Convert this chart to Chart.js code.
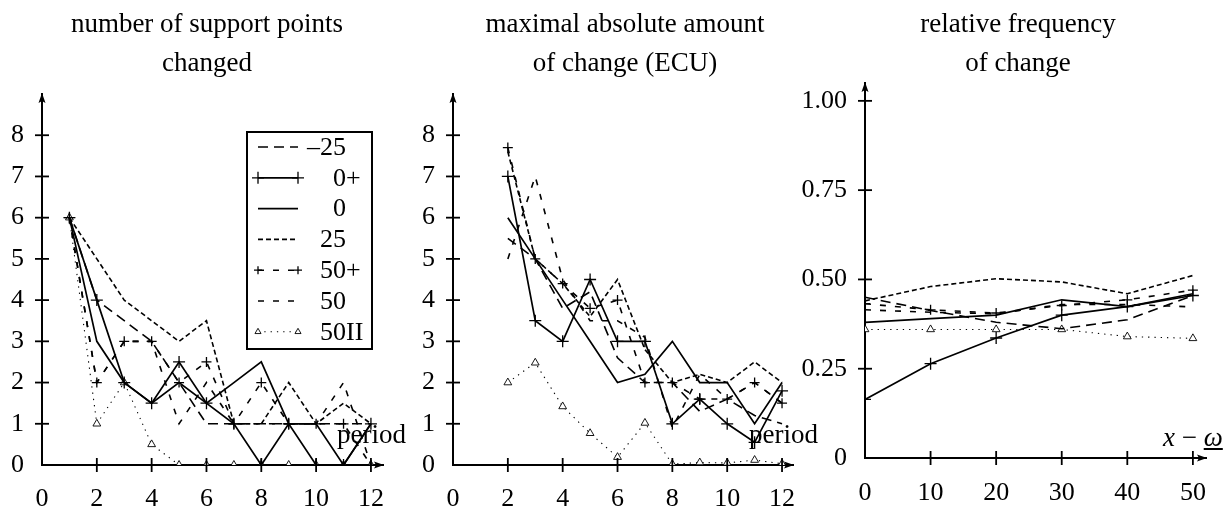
<!DOCTYPE html>
<html>
<head>
<meta charset="utf-8">
<script src="https://cdn.jsdelivr.net/npm/chart.js@4.4.1/dist/chart.umd.min.js"></script>
<style>
  body { margin: 0; background: #fff; width: 1231px; height: 510px; position: relative; overflow: hidden; font-family: "Liberation Serif", serif; color: #000; }
  canvas { position: absolute; top: 0; }
  .ttl { position: absolute; top: 4px; width: 420px; font-size: 27px; line-height: 39px; text-align: center; }
  .lbl { position: absolute; font-size: 27px; line-height: 27px; white-space: nowrap; }
</style>
</head>
<body>
<canvas id="c1" width="410" height="510" style="left:0px"></canvas>
<canvas id="c2" width="410" height="510" style="left:410px"></canvas>
<canvas id="c3" width="441" height="510" style="left:790px"></canvas>

<div class="ttl" style="left:-3px">number of support points<br>changed</div>
<div class="ttl" style="left:415px">maximal absolute amount<br>of change (ECU)</div>
<div class="ttl" style="left:808px">relative frequency<br>of change</div>
<div class="lbl" style="left:337px; top:421px">period</div>
<div class="lbl" style="left:749px; top:421px">period</div>
<div class="lbl" style="left:1163px; top:424px"><i>x</i> − <u><i>ω</i></u></div>

<script>
// series order: -25, 0+, 0, 25, 50+, 50, 50II
const seriesNames = ['–25', '0+', '0', '25', '50+', '50', '50II'];

// panel 1: number of support points changed
const periods1 = [1, 2, 3, 4, 5, 6, 7, 8, 9, 10, 11, 12];
const pts_m25   = [6, 4, 3.5, 3, 2, 1, 1, 1, 1, 1, 1, 1];
const pts_0plus = [6, 4, 2, 1.5, 2.5, 1.5, 1, 0, 1, 0, 0, 1];
const pts_0     = [6, 3, 2, 1.5, 2, 1.5, 2, 2.5, 1, 1, 0, 1];
const pts_25    = [6, 5, 4, 3.5, 3, 3.5, 1, 1, 2, 1, 1.5, 1];
const pts_50plus= [6, 2, 3, 3, 2, 2.5, 1, 2, 1, 1, 1, 0];
const pts_50    = [6, 2, 3, 3, 1, 2, 1, 1, 1, 1, 2, 0];
const pts_50II  = [6, 1, 2, 0.5, 0, 0, 0, 0, 0, 0, 0, 0];

// panel 2: maximal absolute amount of change (ECU)
const periods2 = [2, 3, 4, 5, 6, 7, 8, 9, 10, 11, 12];
const amt_m25   = [5.5, 5, 3.8, 4.2, 2.6, 2, 2, 1.3, 1.6, 1.2, 1];
const amt_0plus = [7, 3.5, 3, 4.5, 3, 3, 1, 1.6, 1, 0.55, 1.8];
const amt_0     = [6, 5, 4, 3, 2, 2.2, 3, 2, 2, 1, 2];
const amt_25    = [7.6, 5, 4.4, 3.6, 4.5, 2.8, 2, 2.2, 2, 2.5, 2];
const amt_50plus= [7.7, 5, 4.4, 3.8, 4, 2, 2, 1.6, 1.6, 2, 1.5];
const amt_50    = [5, 7, 4.5, 3.5, 3.5, 3.1, 0.9, 2.2, 1.6, 2, 1.5];
const amt_50II  = [2.0, 2.48, 1.42, 0.77, 0.19, 1.02, 0.02, 0.06, 0.05, 0.12, 0.03];

// panel 3: relative frequency of change
const xw3 = [0, 10, 20, 30, 40, 50];
const frq_m25   = [0.45, 0.413, 0.38, 0.362, 0.387, 0.455];
const frq_0plus = [0.164, 0.264, 0.336, 0.40, 0.424, 0.455];
const frq_0     = [0.38, 0.39, 0.40, 0.443, 0.424, 0.46];
const frq_25    = [0.44, 0.48, 0.502, 0.493, 0.46, 0.511];
const frq_50plus= [0.432, 0.415, 0.406, 0.427, 0.443, 0.47];
const frq_50    = [0.415, 0.408, 0.404, 0.43, 0.43, 0.423];
const frq_50II  = [0.36, 0.36, 0.36, 0.36, 0.34, 0.335];

// ticks
const xTicks12 = [0, 2, 4, 6, 8, 10, 12];
const yTicks8 = [0, 1, 2, 3, 4, 5, 6, 7, 8];
const xTicks50 = [0, 10, 20, 30, 40, 50];
const yTicks3 = [0, 0.25, 0.5, 0.75, 1];
const yLabels3 = ['0', '0.25', '0.50', '0.75', '1.00'];

// line look per series (same order as seriesNames)
const seriesStyles = [
  { dash: [10, 6], width: 1.6, marker: false },
  { dash: [], width: 1.7, marker: 'cross', r: 6 },
  { dash: [], width: 1.7, marker: false },
  { dash: [5, 3], width: 1.6, marker: false },
  { dash: [6, 9], width: 1.6, marker: 'cross', r: 5 },
  { dash: [6, 9], width: 1.6, marker: false },
  { dash: [1.3, 5], width: 1.1, marker: 'triangle', r: 4.5 },
];

const FONT = { family: '"Liberation Serif", serif', size: 26 };

function buildDatasets(xs, list) {
  return list.map((ys, i) => {
    const st = seriesStyles[i];
    return {
      label: seriesNames[i],
      data: ys.map((v, j) => ({ x: xs[j], y: v })),
      borderColor: '#000',
      borderWidth: st.width,
      borderDash: st.dash,
      tension: 0,
      fill: false,
      pointStyle: st.marker || 'circle',
      pointRadius: st.marker ? st.r : 0,
      pointBorderWidth: st.marker === 'triangle' ? 0.9 : 1.3,
      pointBackgroundColor: '#fff',
      pointBorderColor: '#000',
    };
  });
}

// ticks crossing the axes + arrow heads
const axisDeco = {
  id: 'axisDeco',
  afterDraw(chart) {
    const { ctx, chartArea: a, scales } = chart;
    ctx.save();
    ctx.strokeStyle = '#000';
    ctx.fillStyle = '#000';
    ctx.lineWidth = 1.8;
    ctx.setLineDash([]);
    scales.x.ticks.forEach(t => {
      if (t.value === 0) return;
      const px = scales.x.getPixelForValue(t.value);
      ctx.beginPath(); ctx.moveTo(px, a.bottom - 7); ctx.lineTo(px, a.bottom + 7); ctx.stroke();
    });
    scales.y.ticks.forEach(t => {
      if (t.value === 0) return;
      const py = scales.y.getPixelForValue(t.value);
      ctx.beginPath(); ctx.moveTo(a.left - 7, py); ctx.lineTo(a.left + 7, py); ctx.stroke();
    });
    // arrows
    ctx.beginPath();
    ctx.moveTo(a.right + 1, a.bottom); ctx.lineTo(a.right - 9, a.bottom - 3.5);
    ctx.lineTo(a.right - 7, a.bottom); ctx.lineTo(a.right - 9, a.bottom + 3.5); ctx.closePath(); ctx.fill();
    ctx.beginPath();
    ctx.moveTo(a.left, a.top - 1); ctx.lineTo(a.left - 3.5, a.top + 9);
    ctx.lineTo(a.left, a.top + 7); ctx.lineTo(a.left + 3.5, a.top + 9); ctx.closePath(); ctx.fill();
    ctx.restore();
  }
};

function drawMarker(ctx, kind, x, y, r) {
  ctx.save();
  ctx.setLineDash([]);
  if (kind === 'cross') {
    ctx.lineWidth = 1.3;
    ctx.beginPath();
    ctx.moveTo(x - r, y); ctx.lineTo(x + r, y);
    ctx.moveTo(x, y - r); ctx.lineTo(x, y + r);
    ctx.stroke();
  } else if (kind === 'triangle') {
    ctx.lineWidth = 0.9;
    ctx.fillStyle = '#fff';
    ctx.beginPath();
    ctx.moveTo(x, y - r); ctx.lineTo(x + r * 0.87, y + r * 0.5); ctx.lineTo(x - r * 0.87, y + r * 0.5); ctx.closePath();
    ctx.fill(); ctx.stroke();
  }
  ctx.restore();
}

// boxed legend of the first panel
const legendBox = {
  id: 'legendBox',
  afterDraw(chart) {
    const ctx = chart.ctx;
    const box = { l: 247, t: 132, r: 372, b: 349 };
    ctx.save();
    ctx.fillStyle = '#fff';
    ctx.fillRect(box.l, box.t, box.r - box.l, box.b - box.t);
    ctx.strokeStyle = '#000';
    ctx.lineWidth = 2;
    ctx.strokeRect(box.l, box.t, box.r - box.l, box.b - box.t);
    ctx.font = '26px "Liberation Serif", serif';
    ctx.textBaseline = 'middle';
    chart.data.datasets.forEach((ds, i) => {
      const st = seriesStyles[i];
      const y = 147 + i * 30.8;
      ctx.strokeStyle = '#000';
      ctx.lineWidth = st.width;
      ctx.setLineDash(st.dash);
      ctx.beginPath(); ctx.moveTo(258, y); ctx.lineTo(298, y); ctx.stroke();
      if (st.marker) {
        const r = st.marker === 'cross' ? (i === 1 ? 6 : 4) : 3.5;
        drawMarker(ctx, st.marker, 258, y, r);
        drawMarker(ctx, st.marker, 298, y, r);
      }
      const num = ds.label.replace(/[+I]+$/, '');
      ctx.fillStyle = '#000';
      ctx.fillText(ds.label, 346 - ctx.measureText(num).width, y + 1);
    });
    ctx.restore();
  }
};

function makePanel(id, xs, series, cfg) {
  return new Chart(document.getElementById(id), {
    type: 'line',
    data: { datasets: buildDatasets(xs, series) },
    options: {
      responsive: false,
      animation: false,
      layout: { padding: { top: cfg.top, right: cfg.right, left: 0, bottom: 0 } },
      plugins: { legend: { display: false }, tooltip: { enabled: false } },
      scales: {
        x: {
          type: 'linear', min: cfg.xMin, max: cfg.xMax,
          afterFit: s => { s.height = cfg.xH; },
          afterBuildTicks: s => { s.ticks = cfg.xTicks.map(v => ({ value: v })); },
          grid: { display: false, drawTicks: false },
          border: { display: true, color: '#000', width: 2 },
          ticks: { color: '#000', font: FONT, padding: cfg.xPad, maxRotation: 0, autoSkip: false },
        },
        y: {
          type: 'linear', min: 0, max: cfg.yMax,
          afterFit: s => { s.width = cfg.yW; },
          afterBuildTicks: s => { s.ticks = cfg.yTicks.map(v => ({ value: v })); },
          grid: { display: false, drawTicks: false },
          border: { display: true, color: '#000', width: 2 },
          ticks: {
            color: '#000', font: FONT, padding: 18, autoSkip: false,
            callback: (v, i) => cfg.yLabels ? cfg.yLabels[i] : String(v),
          },
        },
      },
    },
    plugins: cfg.legend ? [axisDeco, legendBox] : [axisDeco],
  });
}

makePanel('c1', periods1,
  [pts_m25, pts_0plus, pts_0, pts_25, pts_50plus, pts_50, pts_50II],
  { top: 94, right: 27, xH: 45, yW: 42, xMin: 0, xMax: 12.44, yMax: 9, xPad: 19,
    xTicks: xTicks12, yTicks: yTicks8, legend: true });

makePanel('c2', periods2,
  [amt_m25, amt_0plus, amt_0, amt_25, amt_50plus, amt_50, amt_50II],
  { top: 94, right: 27, xH: 45, yW: 43, xMin: 0, xMax: 12.4, yMax: 9, xPad: 19,
    xTicks: xTicks12, yTicks: yTicks8 });

makePanel('c3', xw3,
  [frq_m25, frq_0plus, frq_0, frq_25, frq_50plus, frq_50, frq_50II],
  { top: 83, right: 25, xH: 52, yW: 75, xMin: 0, xMax: 52, yMax: 1.05, xPad: 20,
    xTicks: xTicks50, yTicks: yTicks3, yLabels: yLabels3 });
</script>
</body>
</html>
